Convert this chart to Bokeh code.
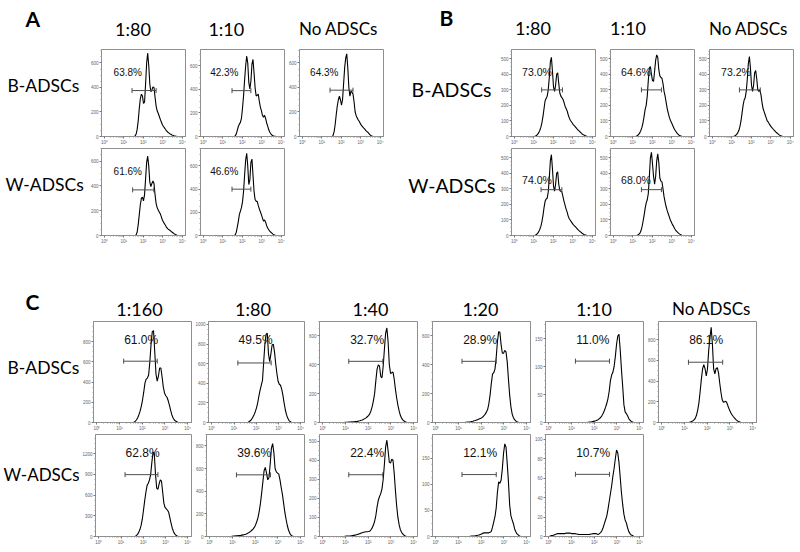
import numpy as np
from bokeh.plotting import figure
from bokeh.layouts import row, column
from bokeh.models import Range1d, FixedTicker, CustomJSTickFormatter, Spacer
from bokeh.core.properties import value
from bokeh.embed import file_html
from bokeh.resources import INLINE

# ---------------- data ----------------
# Display range of the intensity axis (log10 units) and the histogram channels
LOG_MIN, LOG_MAX = -0.15, 4.17
NBINS = 81
CH_STEP = (LOG_MAX - LOG_MIN) / (NBINS - 1)

# each curve: (index of first listed channel, counts per channel)
A_B_180 = (31, [0, 5, 20, 60, 130, 230, 310, 345, 330, 270, 280, 430, 600, 680, 580, 430, 365, 380, 405, 400,
                320, 250, 210, 190, 165, 140, 118, 96, 82, 70, 57, 45, 37, 30, 23, 18, 13, 10, 6, 4, 2, 0])
A_B_110 = (32, [0, 5, 20, 50, 85, 105, 120, 155, 240, 345, 480, 600, 685, 625, 460, 405, 470, 615, 655, 540,
                415, 345, 350, 360, 300, 250, 220, 180, 165, 180, 155, 115, 88, 57, 36, 23, 12, 7, 4, 2, 0])
A_B_NO = (31, [0, 10, 40, 100, 180, 250, 300, 330, 300, 255, 300, 430, 560, 640, 675, 560, 400, 330, 370, 360,
               345, 280, 200, 170, 150, 135, 122, 105, 90, 80, 70, 62, 50, 42, 35, 25, 15, 8, 3, 0])
A_W_180 = (32, [0, 5, 30, 90, 170, 250, 300, 310, 280, 330, 460, 590, 640, 560, 430, 395, 420, 440, 420, 330,
                260, 225, 205, 190, 175, 150, 125, 108, 95, 80, 65, 55, 48, 42, 35, 28, 22, 15, 10, 5, 2, 0])
A_W_110 = (32, [0, 5, 25, 70, 120, 180, 210, 240, 290, 380, 520, 650, 710, 600, 440, 480, 630, 660, 520, 380,
                310, 295, 295, 260, 230, 205, 180, 150, 125, 135, 115, 85, 65, 50, 38, 28, 20, 12, 6, 3, 0])

B_B_180 = (22, [0, 3, 8, 15, 25, 40, 60, 90, 130, 180, 230, 245, 260, 300, 380, 480, 510, 420, 320, 290,
                330, 400, 410, 340, 280, 260, 250, 240, 220, 195, 180, 165, 140, 120, 105, 95, 85, 75, 68, 60,
                52, 45, 38, 32, 25, 18, 13, 9, 6, 3, 1, 0])
B_B_110 = (24, [0, 3, 8, 15, 25, 40, 60, 90, 130, 175, 200, 260, 360, 440, 450, 400, 360, 355, 420, 490,
                525, 510, 430, 390, 380, 375, 340, 290, 260, 220, 180, 150, 125, 105, 90, 75, 60, 45, 35, 25,
                17, 10, 6, 3, 0])
B_B_NO = (23, [0, 3, 8, 15, 25, 40, 65, 100, 150, 200, 235, 250, 290, 370, 470, 515, 440, 330, 290, 330,
               410, 425, 370, 300, 290, 300, 270, 220, 180, 160, 140, 120, 100, 92, 80, 70, 60, 53, 45, 38,
               30, 24, 18, 12, 8, 4, 2, 0])
B_W_180 = (22, [0, 3, 8, 15, 25, 40, 60, 90, 130, 180, 220, 235, 240, 280, 370, 480, 520, 430, 320, 285,
                330, 400, 410, 330, 290, 285, 280, 250, 220, 195, 170, 150, 125, 108, 98, 88, 78, 68, 62, 55,
                48, 40, 33, 27, 22, 16, 11, 7, 4, 2, 0])
B_W_110 = (25, [0, 3, 8, 15, 30, 55, 90, 130, 175, 210, 230, 270, 380, 500, 535, 460, 380, 330, 380, 480,
                525, 470, 370, 350, 345, 300, 250, 215, 185, 160, 140, 120, 100, 85, 70, 60, 45, 35, 27, 20,
                14, 9, 5, 2, 0])

C_B_1160 = (32, [0, 3, 10, 25, 45, 75, 110, 160, 220, 300, 390, 430, 440, 470, 600, 780, 900, 910, 700, 480,
                 410, 460, 540, 540, 450, 350, 290, 265, 250, 215, 170, 120, 75, 45, 25, 14, 7, 3, 0])
C_B_180 = (32, [0, 3, 10, 20, 35, 55, 80, 110, 150, 200, 270, 330, 380, 430, 620, 800, 900, 910, 700, 620,
                700, 790, 800, 720, 600, 500, 420, 390, 380, 340, 280, 200, 130, 80, 45, 22, 10, 3, 0])
C_B_140 = (20, [0, 1, 2, 2, 3, 3, 4, 4, 5, 6, 7, 8, 10, 12, 15, 18, 22, 27, 32, 40, 48, 60, 80, 110, 150,
                200, 290, 370, 400, 390, 320, 310, 390, 510, 620, 655, 560, 400, 340, 345, 350, 300, 230, 170,
                120, 80, 50, 30, 18, 10, 5, 2, 0])
C_B_120 = (26, [0, 1, 2, 3, 4, 5, 7, 9, 12, 14, 17, 20, 24, 28, 32, 38, 47, 58, 72, 90, 130, 190, 270, 335,
                345, 370, 450, 560, 630, 625, 540, 480, 480, 500, 490, 420, 300, 190, 110, 60, 35, 20, 11, 6, 2, 0])
C_B_110 = (34, [0, 0.5, 1, 1, 1.5, 2, 2.5, 3, 4, 5, 7, 9, 12, 16, 21, 27, 34, 43, 56, 75, 85, 90, 100, 118,
                140, 155, 158, 130, 95, 65, 32, 19, 16, 12, 7, 4, 2, 1, 0])
C_B_NO = (24, [0, 2, 5, 10, 15, 25, 40, 70, 120, 190, 300, 420, 520, 560, 520, 450, 520, 700, 820, 920, 760,
               520, 470, 520, 530, 480, 380, 290, 220, 195, 200, 205, 185, 150, 120, 95, 75, 58, 45, 30, 20,
               12, 6, 2, 0])
C_W_1160 = (32, [0, 5, 12, 30, 60, 100, 160, 250, 380, 520, 640, 740, 770, 820, 900, 1080, 1220, 1200, 900,
                 700, 680, 760, 820, 800, 640, 480, 420, 400, 380, 350, 270, 190, 120, 70, 38, 18, 8, 3, 0])
C_W_180 = (20, [0, 2, 4, 5, 6, 7, 8, 9, 10, 12, 14, 17, 20, 25, 30, 37, 45, 55, 65, 80, 100, 130, 165, 220,
                290, 380, 480, 580, 610, 560, 500, 520, 640, 780, 820, 740, 600, 570, 560, 550, 500, 430, 370,
                290, 210, 150, 95, 55, 28, 12, 5, 0])
C_W_140 = (20, [0, 1, 2, 2, 3, 3, 4, 5, 6, 7, 9, 11, 13, 15, 18, 20, 22, 24, 25, 25, 26, 28, 35, 45, 60, 80,
                110, 155, 190, 210, 225, 250, 300, 380, 470, 505, 450, 390, 385, 405, 400, 330, 240, 160, 100,
                62, 36, 22, 13, 7, 3, 0])
C_W_120 = (30, [0, 0.5, 1, 1, 1, 1.5, 2, 2.5, 3, 4, 5, 6, 7, 7, 7, 7, 7, 8, 10, 18, 28, 38, 55, 85, 105, 102,
                108, 130, 160, 178, 172, 140, 105, 60, 40, 32, 25, 15, 9, 5, 3, 1, 0])
C_W_110 = (3, [0, 0.5, 1, 1, 1.5, 2, 2.5, 3, 3, 3, 3, 3, 3, 3, 3.5, 3.5, 3.5, 3.5, 3, 3, 3, 3, 2.5, 2.5, 2, 2,
               2, 2, 2, 2, 2, 2, 2, 2, 2.5, 2.5, 3, 3, 3, 2.5, 2, 3, 4, 6, 9, 13, 17, 21, 28, 36, 44, 52, 62,
               70, 80, 89, 86, 76, 61, 45, 33, 23, 17, 14, 9, 5, 3, 1.5, 1, 0])

# panel A (order: B-ADSCs 1:80, 1:10, none; W-ADSCs 1:80, 1:10)
A_CURVES = [A_B_180, A_B_110, A_B_NO, A_W_180, A_W_110]
A_PCT = ["63.8%", "42.3%", "64.3%", "61.6%", "46.6%"]
A_YMAX = [710, 740, 710, 702, 751]
A_YSTEP = [200, 200, 200, 200, 200]
A_GATE_LO = [1.42, 1.47, 1.42, 1.45, 1.47]
A_GATE_HI = [2.66, 2.44, 2.60, 2.54, 2.44]
A_GATE_Y = [375, 390, 378, 368, 400]
A_COLS = ["1:80", "1:10", "No ADSCs"]

B_CURVES = [B_B_180, B_B_110, B_B_NO, B_W_180, B_W_110]
B_PCT = ["73.0%", "64.6%", "73.2%", "74.0%", "68.0%"]
B_YMAX = [560, 560, 560, 560, 560]
B_YSTEP = [100, 100, 100, 100, 100]
B_GATE_LO = [1.40, 1.44, 1.39, 1.37, 1.44]
B_GATE_HI = [2.47, 2.47, 2.46, 2.44, 2.47]
B_GATE_Y = [300, 300, 300, 295, 295]
B_COLS = ["1:80", "1:10", "No ADSCs"]

# panel C (row 1: B-ADSCs x6, row 2: W-ADSCs x5)
C_CURVES = [C_B_1160, C_B_180, C_B_140, C_B_120, C_B_110, C_B_NO,
            C_W_1160, C_W_180, C_W_140, C_W_120, C_W_110]
C_PCT = ["61.0%", "49.5%", "32.7%", "28.9%", "11.0%", "86.1%",
         "62.8%", "39.6%", "22.4%", "12.1%", "10.7%"]
C_YMAX = [1000, 1030, 700, 700, 181, 977, 1476, 900, 535, 196, 105]
C_YSTEP = [200, 200, 200, 200, 50, 200, 300, 200, 100, 50, 20]
C_GATE_LO = [1.18, 1.17, 1.14, 1.15, 1.17, 1.17, 1.18, 1.17, 1.14, 1.15, 1.17]
C_GATE_HI = [2.66, 2.67, 2.64, 2.66, 2.67, 2.68, 2.66, 2.67, 2.64, 2.66, 2.67]
C_GATE_Y = [607, 607, 424, 424, 110, 583, 895, 544, 324, 119, 64]
C_COLS = ["1:160", "1:80", "1:40", "1:20", "1:10", "No ADSCs"]

ROWS = ["B-ADSCs", "W-ADSCs"]

# ---------------- styles / layout ----------------
HEAD_FONT = "Lato"
NUM_FONT = "Liberation Sans"
FRAME = "#8f8f8f"
GATE = "#4d4d4d"

SUPER = "\u2070\u00b9\u00b2\u00b3\u2074"
X_FMT = CustomJSTickFormatter(args=dict(sup=SUPER),
                              code="return '10' + sup[Math.round(Math.log10(tick))];")


def channels(curve):
    start, counts = curve
    ys = [0.0] * start + [float(c) for c in counts]
    ys += [0.0] * (NBINS - len(ys))
    xs = [10 ** (LOG_MIN + i * CH_STEP) for i in range(NBINS)]
    return xs, ys


def xpos(px, fw):
    """data x for a point px pixels right of the frame's left edge"""
    return 10 ** (LOG_MIN + (LOG_MAX - LOG_MIN) * px / fw)


def hist(curve, ymax, ystep, pct, glo, ghi, gy, w, h, bl, br, bt, bb,
         pdx, pdy, psize, tsize):
    fw = w - bl - br
    fh = h - bt - bb
    p = figure(width=w, height=h, x_axis_type="log",
               x_range=Range1d(10 ** LOG_MIN, 10 ** LOG_MAX), y_range=Range1d(0, ymax),
               output_backend="svg", toolbar_location=None,
               min_border_left=bl, min_border_right=br,
               min_border_top=bt, min_border_bottom=bb)
    p.grid.visible = False
    p.outline_line_color = FRAME
    p.outline_line_width = 1
    xs, ys = channels(curve)
    p.line(xs, ys, line_color="black", line_width=1.1)
    p.segment(x0=[10 ** glo], y0=[gy], x1=[10 ** ghi], y1=[gy],
              line_color=GATE, line_width=1)
    p.scatter(x=[10 ** glo, 10 ** ghi], y=[gy, gy], marker="dash",
              angle=np.pi / 2, size=5, line_color=GATE, line_width=1)
    p.text(x=[xpos(pdx, fw)], y=[ymax * (1 - pdy / fh)], text=[pct],
           text_font=value(NUM_FONT), text_font_size=f"{psize}px",
           text_baseline="middle", text_align="left", text_color="#111111")

    xa = p.xaxis[0]
    xa.ticker = FixedTicker(ticks=[1, 10, 100, 1000, 10000],
                            minor_ticks=[m * 10 ** e for e in range(4) for m in range(2, 10)])
    xa.formatter = X_FMT
    ya = p.yaxis[0]
    ticks = [k * ystep for k in range(int(ymax / ystep) + 1) if k * ystep <= ymax * 0.98]
    minor = [k * ystep / 4 for k in range(int(ymax / (ystep / 4)) + 1) if k % 4]
    ya.ticker = FixedTicker(ticks=ticks, minor_ticks=minor)
    for ax in (xa, ya):
        ax.axis_line_color = FRAME
        ax.major_tick_line_color = "#777777"
        ax.minor_tick_line_color = "#999999"
        ax.major_tick_in = 0
        ax.minor_tick_in = 0
        ax.major_tick_out = 2
        ax.minor_tick_out = 1
        ax.major_label_standoff = 1
        ax.major_label_text_font = NUM_FONT
        ax.major_label_text_font_size = f"{tsize}px"
        ax.major_label_text_color = "#666666"
    return p


def text_fig(w, h, ox, oy, items):
    p = figure(width=w, height=h, x_range=Range1d(0, w), y_range=Range1d(h, 0),
               x_axis_location=None, y_axis_location=None,
               output_backend="svg", toolbar_location=None, min_border=0)
    p.grid.visible = False
    p.outline_line_color = None
    for px, py, txt, size, style, align in items:
        p.text(x=[px - ox], y=[py - oy], text=[txt], text_font=value(HEAD_FONT),
               text_font_size=f"{size}px", text_font_style=style, text_align=align,
               text_baseline="middle", text_color="black")
    return p


def grid_panel(x0, y0, head_h, label_w, fig_w, bl, br, row_h, bt, bb, ncols,
               curves, pcts, ymaxs, ysteps, glos, ghis, gys, pdxs, pdys, psize,
               head_items, row_labels, label_sizes, label_align):
    head = text_fig(label_w + max(ncols) * fig_w, head_h, x0, y0, head_items)
    rows = []
    k = 0
    top = y0 + head_h
    for r, ncol in enumerate(ncols):
        lx, ly = row_labels[r]
        kids = [text_fig(label_w, row_h[r], x0, top,
                         [(lx, ly, ROWS[r], label_sizes[r], "normal", label_align)])]
        for c in range(ncol):
            kids.append(hist(curves[k], ymaxs[k], ysteps[k], pcts[k], glos[k], ghis[k], gys[k],
                             fig_w, row_h[r], bl, br, bt, bb[r], pdxs[k], pdys[k], psize, 4.5))
            k += 1
        rows.append(row(*kids))
        top += row_h[r]
    return column(head, *rows)


# ---------------- panel A ----------------
A_X0, A_Y0 = 0, 0
A_HEAD = ([(25, 17.5, "A", 21, "bold", "left")] +
          [(x, 28, t, s, "normal", "center")
           for x, t, s in zip([132.5, 225.8, 338], A_COLS, [18, 18, 17])])
panel_a = grid_panel(A_X0, A_Y0, 48, 87, 99, 11, 1, [99, 99], 1, [10, 10], [3, 2],
                     A_CURVES, A_PCT, A_YMAX, A_YSTEP, A_GATE_LO, A_GATE_HI, A_GATE_Y,
                     [12.5, 10, 11, 12.5, 10], [23, 23, 23, 23.5, 23.5], 10,
                     A_HEAD, [(7, 89), (5, 188)], [17.5, 17.5], "left")

# ---------------- panel B ----------------
B_X0, B_Y0 = 400, 0
B_HEAD = ([(439, 17, "B", 21, "bold", "left")] +
          [(x, 27.5, t, s, "normal", "center")
           for x, t, s in zip([532.5, 627.5, 748], B_COLS, [18, 18, 17])])
panel_b = grid_panel(B_X0, B_Y0, 48, 97, 99, 11, 1, [99, 99], 1, [10, 10], [3, 2],
                     B_CURVES, B_PCT, B_YMAX, B_YSTEP, B_GATE_LO, B_GATE_HI, B_GATE_Y,
                     [11, 11, 12, 11, 11], [23, 23, 23, 32, 32], 10.5,
                     B_HEAD, [(491, 94), (495, 189)], [19.5, 19.5], "right")

# ---------------- panel C ----------------
C_X0, C_Y0 = 0, 246
C_HEAD = ([(25, 300.5, "C", 21, "bold", "left")] +
          [(x, 308, t, s, "normal", "center")
           for x, t, s in zip([139, 252.5, 370, 480, 593.5, 711], C_COLS, [18, 18, 18, 18, 18, 17])])
panel_c = grid_panel(C_X0, C_Y0, 74, 79, 113, 13, 1, [113, 114], 1, [11, 11], [6, 5],
                     C_CURVES, C_PCT, C_YMAX, C_YSTEP, C_GATE_LO, C_GATE_HI, C_GATE_Y,
                     [31] * 11, [18.5] * 6 + [18.4] * 5, 12,
                     C_HEAD, [(7, 371.7), (3, 477.7)], [17.5, 17], "left")

page = column(row(panel_a, Spacer(width=B_X0 - (87 + 3 * 99), height=10), panel_b), panel_c)

open("out.html", "w").write(file_html(page, INLINE))
